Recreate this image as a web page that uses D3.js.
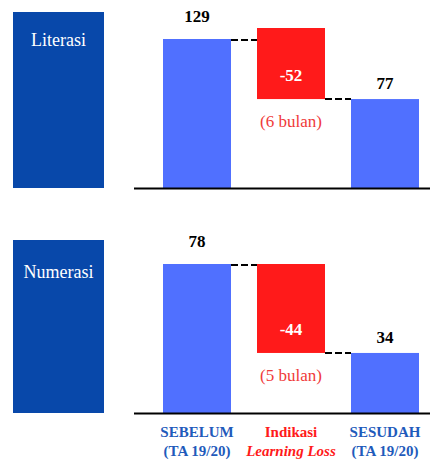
<!DOCTYPE html>
<html>
<head>
<meta charset="utf-8">
<script src="https://cdn.jsdelivr.net/npm/d3@7"></script>
<style>
  body { margin: 0; background: #fff; }
</style>
</head>
<body>
<svg id="chart" width="430" height="461" font-family="Liberation Serif"></svg>
<script>
// Data
var categories = ["SEBELUM", "Indikasi", "SESUDAH"];
var panelNames = ["Literasi", "Numerasi"];
var beforeValues = [129, 78];
var afterValues = [77, 34];
var lossMonths = ["(6 bulan)", "(5 bulan)"];
var catLine1 = ["SEBELUM", "Indikasi", "SESUDAH"];
var catLine2 = ["(TA 19/20)", "Learning Loss", "(TA 19/20)"];

// Layout
var width = 430;
var box_left = 13, box_width = 91;
var axis_left = 134;
var panels = [
    {top: 12, base: 188, barTop: 39, floor: 0, overhang: 11, titleDy: 34},
    {top: 240, base: 413, barTop: 264, floor: 4.3, overhang: 0, titleDy: 38}
];

var c_box = "#0848AA";
var c_bar = "#5070FF";
var c_red = "#FF1A1A";
var c_redtext = "#F03A3A";
var c_cat = "#1F5BBB";

var svg = d3.select("#chart");

var x = d3.scaleBand()
    .domain(categories)
    .range([150, 432])
    .paddingInner(0.2766)
    .paddingOuter(0.1383);

panels.forEach(function(p, i) {
    var g = svg.append("g");
    var before = beforeValues[i], after = afterValues[i];
    var y = d3.scaleLinear()
        .domain([p.floor, before])
        .range([p.base, p.barTop]);

    // Side title box
    g.append("rect")
        .attr("x", box_left).attr("y", p.top)
        .attr("width", box_width).attr("height", p.base - p.top)
        .attr("fill", c_box);
    g.append("text")
        .attr("x", box_left + box_width / 2)
        .attr("y", p.top + p.titleDy)
        .attr("text-anchor", "middle")
        .attr("font-size", 18)
        .attr("fill", "#fff")
        .text(panelNames[i]);

    // Bars
    g.append("rect")
        .attr("x", x("SEBELUM")).attr("y", y(before))
        .attr("width", x.bandwidth()).attr("height", y(p.floor) - y(before))
        .attr("fill", c_bar);
    g.append("rect")
        .attr("x", x("SESUDAH")).attr("y", y(after))
        .attr("width", x.bandwidth()).attr("height", y(p.floor) - y(after))
        .attr("fill", c_bar);
    var redTop = y(before) - p.overhang;
    g.append("rect")
        .attr("x", x("Indikasi")).attr("y", redTop)
        .attr("width", x.bandwidth()).attr("height", y(after) - redTop)
        .attr("fill", c_red);

    // Connectors
    g.append("line")
        .attr("x1", x("SEBELUM") + x.bandwidth()).attr("x2", x("Indikasi"))
        .attr("y1", y(before) + 1).attr("y2", y(before) + 1)
        .attr("stroke", "#000").attr("stroke-width", 2)
        .attr("stroke-dasharray", "7,3");
    g.append("line")
        .attr("x1", x("Indikasi") + x.bandwidth()).attr("x2", x("SESUDAH"))
        .attr("y1", y(after)).attr("y2", y(after))
        .attr("stroke", "#000").attr("stroke-width", 2)
        .attr("stroke-dasharray", "7,3");

    // Baseline
    g.append("line")
        .attr("x1", axis_left).attr("x2", width)
        .attr("y1", p.base + 0.5).attr("y2", p.base + 0.5)
        .attr("stroke", "#000").attr("stroke-width", 2);

    // Value labels
    var mid = x.bandwidth() / 2;
    g.append("text")
        .attr("x", x("SEBELUM") + mid).attr("y", y(before) - 17)
        .attr("text-anchor", "middle").attr("font-size", 17).attr("font-weight", "bold")
        .text(before);
    g.append("text")
        .attr("x", x("SESUDAH") + mid).attr("y", y(after) - 10)
        .attr("text-anchor", "middle").attr("font-size", 17).attr("font-weight", "bold")
        .text(after);
    g.append("text")
        .attr("x", x("Indikasi") + mid).attr("y", y(after) - 18)
        .attr("text-anchor", "middle").attr("font-size", 17).attr("font-weight", "bold")
        .attr("fill", "#fff")
        .text("-" + (before - after));
    g.append("text")
        .attr("x", x("Indikasi") + mid).attr("y", y(after) + 28)
        .attr("text-anchor", "middle").attr("font-size", 17)
        .attr("fill", c_redtext)
        .text(lossMonths[i]);
});

// Category labels under the bottom panel
var cat = svg.append("g");
categories.forEach(function(c, j) {
    var cx = x(c) + x.bandwidth() / 2;
    var col = c === "Indikasi" ? c_red : c_cat;
    cat.append("text")
        .attr("x", cx).attr("y", 437)
        .attr("text-anchor", "middle").attr("font-size", 15).attr("font-weight", "bold")
        .attr("fill", col)
        .text(catLine1[j]);
    cat.append("text")
        .attr("x", cx).attr("y", 456)
        .attr("text-anchor", "middle").attr("font-size", 15).attr("font-weight", "bold")
        .attr("font-style", c === "Indikasi" ? "italic" : "normal")
        .attr("fill", col)
        .text(catLine2[j]);
});
</script>
</body>
</html>
